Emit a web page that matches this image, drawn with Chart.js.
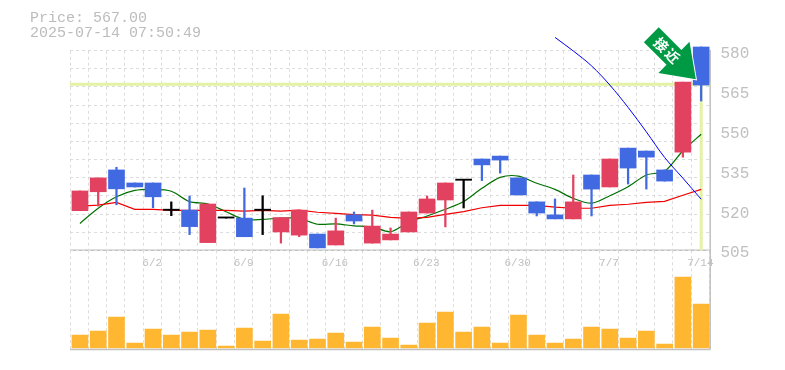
<!DOCTYPE html>
<html lang="ja">
<head>
  <meta charset="UTF-8">
  <title>Price chart</title>
  <script src="https://cdn.jsdelivr.net/npm/chart.js"></script>
  <style>
    html, body { margin: 0; padding: 0; background: #fff; }
    #wrap { position: relative; width: 785px; height: 370px; overflow: hidden; }
    #wrap canvas { position: absolute; left: 0; top: 0; }
    #title { position: absolute; left: 30px; top: 11px; font: 15px/15px "Liberation Mono", monospace; color: #bcbcbc; white-space: pre; }
  </style>
</head>
<body>
  <div id="wrap">
    <canvas id="volumeChart" width="785" height="370"></canvas>
    <canvas id="priceChart" width="785" height="370"></canvas>
    <div id="title">Price: 567.00
2025-07-14 07:50:49</div>
  </div>

  <script>
    const labels = ["5/27","5/28","5/29","5/30","6/2","6/3","6/4","6/5","6/6","6/9","6/10","6/11","6/12","6/13","6/16","6/17","6/18","6/19","6/20","6/23","6/24","6/25","6/26","6/27","6/30","7/1","7/2","7/3","7/4","7/7","7/8","7/9","7/10","7/11","7/14"];
    const weekLabels = ["6/2","6/9","6/16","6/23","6/30","7/7","7/14"];
    const priceTicks = [580, 565, 550, 535, 520, 505];

    const opens  = [519.9,527.0,535.2,530.3,530.3,520.0,520.1,507.9,517.1,517.1,520.0,511.9,510.7,511.1,507.0,518.3,507.7,508.9,511.9,519.0,523.9,531.3,539.3,540.4,532.2,523.2,518.3,516.8,533.3,528.8,543.4,542.3,535.2,541.9,581.4];
    const closes = [527.3,532.2,528.1,528.8,525.1,520.0,513.9,522.4,517.1,510.1,520.0,517.3,520.1,505.9,512.3,516.0,514.1,511.1,519.4,524.3,530.3,531.3,537.1,538.9,525.8,519.0,516.8,523.2,528.0,539.3,535.9,540.0,531.0,568.2,567.1];
    const highs  = [527.3,532.2,536.2,530.3,530.3,523.2,525.4,522.4,517.1,528.4,525.5,517.3,520.1,511.1,517.1,519.4,520.1,513.4,519.4,525.4,530.3,531.3,539.3,540.4,532.2,523.2,524.3,533.3,533.3,539.3,543.4,542.3,535.2,568.2,581.4];
    const lows   = [519.9,521.6,522.1,528.8,521.0,518.0,510.9,507.9,517.1,510.1,510.9,507.7,510.1,505.9,507.0,514.9,507.7,508.9,511.9,519.0,513.8,520.9,531.2,534.0,525.8,517.9,516.8,516.8,517.9,528.8,529.9,528.0,531.0,540.0,561.1];

    const maShort = [515.1,520.8,525.1,527.5,527.9,527.2,523.3,522.4,519.5,516.6,516.6,517.1,517.0,514.8,514.9,514.2,513.8,512.0,515.7,517.9,520.4,523.3,528.3,532.4,532.9,530.2,527.9,524.5,522.7,525.5,528.9,533.3,534.7,542.4,548.6];
    const maLong  = [521.6,522.0,523.0,520.4,520.4,520.0,520.0,520.0,520.0,519.7,520.0,519.7,520.1,519.3,518.9,518.4,518.2,517.4,517.0,517.4,518.5,519.5,521.0,521.9,521.9,521.9,521.2,520.8,520.8,521.9,522.3,523.0,523.4,525.7,527.9];
    const trend   = [null,null,null,null,null,null,null,null,null,null,null,null,null,null,null,null,null,null,null,null,null,null,null,null,null,null,585.0,579.9,574.3,567.1,558.7,549.5,539.9,532.1,524.2];
    const volumes = [13,17,31,5,19,13,16,18,2,20,7,34,8,9,15,6,21,10,3,25,36,16,21,5,33,13,5,9,21,19,10,17,4,71,44];

    const currentPrice = 567;
    const gridDivisions = 11;
    const badgeText = ["接", "近"];

    const UP = "#e2425f", DOWN = "#4169e1", FLAT = "#000000";
    const GREY = "#c0c0c0", GRID = "#dcdcdc";
    const PLOT_LEFT = 70, PLOT_RIGHT_GAP = 75.5;
    const MARK_SHIFT = 0.8; // marks sit a little right of the grid cells

    const candleColor = labels.map((l, i) => closes[i] > opens[i] ? UP : closes[i] < opens[i] ? DOWN : FLAT);

    const shiftMarks = {
      id: "shiftMarks",
      beforeDatasetsDraw(chart) {
        chart.ctx.save();
        chart.ctx.translate(MARK_SHIFT, 0);
      },
      afterDatasetsDraw(chart) {
        chart.ctx.restore();
      }
    };

    // current price marker, thick pale lines behind the candles
    const priceMarker = {
      id: "priceMarker",
      beforeDatasetsDraw(chart) {
        const { ctx, chartArea, scales } = chart;
        const y = scales.y.getPixelForValue(currentPrice) - 1;
        const x = scales.x.getPixelForValue(labels.length - 1);
        ctx.save();
        ctx.strokeStyle = "#e4f2a6";
        ctx.lineWidth = 3;
        ctx.beginPath();
        ctx.moveTo(chartArea.left - MARK_SHIFT, y);
        ctx.lineTo(chartArea.right, y);
        ctx.moveTo(x, y);
        ctx.lineTo(x, chartArea.bottom);
        ctx.stroke();
        ctx.restore();
      }
    };

    // green signal arrow pointing at the last candle
    const signalArrow = {
      id: "signalArrow",
      afterDraw(chart) {
        const { ctx, scales } = chart;
        const tipX = scales.x.getPixelForValue(labels.length - 1) - 4.5;
        const tipY = scales.y.getPixelForValue(currentPrice) - 6;
        ctx.save();
        ctx.translate(tipX, tipY);
        ctx.rotate(Math.PI / 4);
        ctx.beginPath();
        ctx.moveTo(0, 0);
        ctx.lineTo(-31, -22);
        ctx.lineTo(-31, -10.5);
        ctx.lineTo(-63, -10.5);
        ctx.lineTo(-63, 10.5);
        ctx.lineTo(-31, 10.5);
        ctx.lineTo(-31, 22);
        ctx.closePath();
        ctx.fillStyle = "#009944";
        ctx.strokeStyle = "#ffffff";
        ctx.lineWidth = 2;
        ctx.stroke();
        ctx.fill();
        ctx.fillStyle = "#ffffff";
        ctx.font = "bold 14px 'Noto Sans CJK JP'";
        ctx.textAlign = "center";
        ctx.textBaseline = "middle";
        ctx.fillText(badgeText[0], -49, 0);
        ctx.fillText(badgeText[1], -33, 0);
        ctx.restore();
      }
    };

    // solid frame round the volume panel and up the right side
    const frameLines = {
      id: "frameLines",
      afterDraw(chart) {
        const { ctx, chartArea: a } = chart;
        ctx.save();
        ctx.strokeStyle = GREY;
        ctx.lineWidth = 1.5;
        ctx.beginPath();
        ctx.moveTo(a.left, a.top);
        ctx.lineTo(a.right, a.top);
        ctx.moveTo(a.left, a.bottom);
        ctx.lineTo(a.right + 0.7, a.bottom);
        ctx.moveTo(a.right + 0.7, a.bottom);
        ctx.lineTo(a.right + 0.7, 50);
        ctx.stroke();
        ctx.restore();
      }
    };

    new Chart(document.getElementById("priceChart"), {
      data: {
        labels: labels,
        datasets: [
          { type: "bar", label: "body", data: labels.map((l, i) => [opens[i], closes[i]]), backgroundColor: candleColor, grouped: false, barThickness: 16, minBarLength: 1.2, clip: false, order: 1 },
          { type: "bar", label: "wick", data: labels.map((l, i) => [lows[i], highs[i]]), backgroundColor: candleColor, grouped: false, barThickness: 1.6, clip: false, order: 2 },
          { type: "line", label: "trend", data: trend, borderColor: "#0000ee", borderWidth: 1, pointRadius: 0, tension: 0.35, clip: false, order: 3 },
          { type: "line", label: "long", data: maLong, borderColor: "#f00000", borderWidth: 1.2, pointRadius: 0, tension: 0, clip: false, order: 4 },
          { type: "line", label: "short", data: maShort, borderColor: "#007000", borderWidth: 1.2, pointRadius: 0, tension: 0.3, clip: false, order: 5 }
        ]
      },
      options: {
        responsive: false,
        animation: false,
        layout: { padding: { left: PLOT_LEFT, right: 0, top: 50.7, bottom: 0 } },
        plugins: { legend: { display: false }, tooltip: { enabled: false } },
        scales: {
          x: {
            offset: true,
            grid: { color: GRID, tickLength: 0, drawTicks: false, offset: true },
            border: { display: false, dash: [3, 3] },
            ticks: {
              autoSkip: false, maxRotation: 0, padding: 6, color: GREY,
              font: { family: "Liberation Mono", size: 11 },
              callback: (v, i) => weekLabels.includes(labels[i]) ? labels[i] : ""
            },
            afterFit: s => { s.height = 119.7; }
          },
          y: {
            position: "right", min: 505, max: 580,
            grid: { display: false },
            border: { display: false },
            ticks: { display: false },
            afterFit: s => { s.width = 0; }
          },
          // the printed labels sit a little under their price, so they get their own axis
          yLabels: {
            position: "right", min: 506.1, max: 581.1,
            afterBuildTicks: s => { s.ticks = priceTicks.map(v => ({ value: v })); },
            grid: { display: false },
            border: { display: false },
            ticks: { autoSkip: false, color: GREY, padding: 3, font: { family: "Liberation Mono", size: 16 } },
            afterFit: s => { s.width = PLOT_RIGHT_GAP; }
          },
          // dotted horizontal lines do not follow the price ticks
          yGrid: {
            position: "left", min: 0, max: gridDivisions,
            ticks: { display: false, stepSize: 1 },
            grid: { color: GRID, drawTicks: false },
            border: { display: false, dash: [3, 3] },
            afterFit: s => { s.width = 0; }
          }
        }
      },
      plugins: [shiftMarks, priceMarker, signalArrow]
    });

    new Chart(document.getElementById("volumeChart"), {
      type: "bar",
      data: {
        labels: labels,
        datasets: [{ label: "volume", data: volumes, backgroundColor: "#ffb732", barThickness: 16, base: 0 }]
      },
      options: {
        responsive: false,
        animation: false,
        layout: { padding: { left: PLOT_LEFT, right: 0, top: 250.3, bottom: 20.5 } },
        plugins: { legend: { display: false }, tooltip: { enabled: false } },
        scales: {
          x: {
            offset: true,
            grid: { color: GRID, drawTicks: false, offset: true },
            border: { display: false, dash: [3, 3] },
            ticks: { display: false, autoSkip: false },
            afterFit: s => { s.height = 0; }
          },
          y: {
            position: "right", min: -1.5, max: 97.7,
            grid: { display: false },
            border: { display: false },
            ticks: { display: false },
            afterFit: s => { s.width = PLOT_RIGHT_GAP; }
          }
        }
      },
      plugins: [shiftMarks, frameLines]
    });
  </script>
</body>
</html>
